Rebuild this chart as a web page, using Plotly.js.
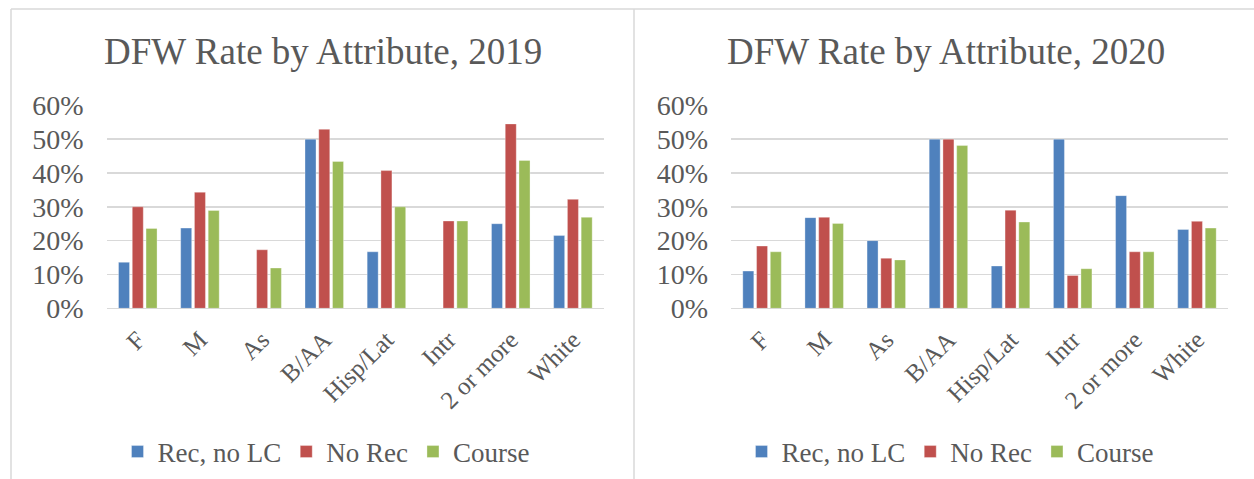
<!DOCTYPE html>
<html>
<head>
<meta charset="utf-8">
<script src="https://cdn.plot.ly/plotly-3.0.1.min.js"></script>
<style>
  html, body { margin: 0; padding: 0; background: #ffffff; }
  #chart { width: 1254px; height: 479px; }
</style>
</head>
<body>
<div id="chart"></div>
<script>
// ---- data ----
const categories = ["F", "M", "As", "B/AA", "Hisp/Lat", "Intr", "2 or more", "White"];
const seriesNames = ["Rec, no LC", "No Rec", "Course"];

const rec2019    = [0.136, 0.237, null, 0.500, 0.167, null, 0.250, 0.215];
const noRec2019  = [0.300, 0.343, 0.173, 0.529, 0.407, 0.258, 0.545, 0.322];
const course2019 = [0.236, 0.289, 0.119, 0.434, 0.300, 0.258, 0.437, 0.269];

const rec2020    = [0.110, 0.268, 0.200, 0.500, 0.125, 0.500, 0.333, 0.233];
const noRec2020  = [0.184, 0.269, 0.148, 0.500, 0.290, 0.097, 0.167, 0.257];
const course2020 = [0.167, 0.251, 0.143, 0.481, 0.255, 0.117, 0.167, 0.237];

const titles = ["DFW Rate by Attribute, 2019", "DFW Rate by Attribute, 2020"];
const yTicks = [0, 0.1, 0.2, 0.3, 0.4, 0.5, 0.6];

// ---- styling ----
const colors = ["#4F81BD", "#C0504D", "#9BBB59"];
const textColor = "#595959";
const gridColor = "#D9D9D9";
const fontFamily = "Liberation Serif";
const W = 1254, H = 479;
const px = v => v / W;
const py = v => (H - v) / H;

function bars(values, idx, xa, ya, legendRef) {
  return {
    type: "bar",
    x: categories,
    y: values,
    name: seriesNames[idx],
    xaxis: xa,
    yaxis: ya,
    legend: legendRef,
    marker: { color: colors[idx], line: { width: 0.6, color: "rgba(255,255,255,0.55)" } },
    hoverinfo: "x+y+name"
  };
}

const data = [
  bars(rec2019, 0, "x", "y", "legend"),
  bars(noRec2019, 1, "x", "y", "legend"),
  bars(course2019, 2, "x", "y", "legend"),
  bars(rec2020, 0, "x2", "y2", "legend2"),
  bars(noRec2020, 1, "x2", "y2", "legend2"),
  bars(course2020, 2, "x2", "y2", "legend2")
];

const yDomain = [py(308.3), py(105.3)];

function xAxis(domain, anchor) {
  return {
    domain: domain,
    anchor: anchor,
    type: "category",
    tickangle: -45,
    ticks: "",
    ticklabelstandoff: 11,
    showgrid: false,
    showline: false,
    zeroline: false,
    tickfont: { family: fontFamily, size: 25, color: textColor },
    fixedrange: true
  };
}
function yAxis(anchor) {
  return {
    domain: yDomain,
    anchor: anchor,
    range: [0, 0.6],
    tickvals: yTicks,
    tickformat: ".0%",
    ticks: "",
    ticklabelstandoff: 22,
    showgrid: true,
    gridcolor: gridColor,
    gridwidth: 1.5,
    zeroline: true,
    zerolinecolor: gridColor,
    zerolinewidth: 1.5,
    showline: false,
    tickfont: { family: fontFamily, size: 28, color: textColor },
    fixedrange: true
  };
}

function legendCfg(xCenter) {
  return {
    orientation: "h",
    x: px(xCenter),
    xanchor: "center",
    y: py(452),
    yanchor: "middle",
    font: { family: fontFamily, size: 27, color: textColor },
    bgcolor: "rgba(0,0,0,0)",
    itemwidth: 30,
    itemclick: false,
    itemdoubleclick: false
  };
}

const lineStyle = { color: gridColor, width: 1.5 };

const layout = {
  width: W,
  height: H,
  margin: { l: 0, r: 0, t: 0, b: 0 },
  paper_bgcolor: "#ffffff",
  plot_bgcolor: "#ffffff",
  barmode: "group",
  bargap: 0.336,
  bargroupgap: 0.2,
  showlegend: true,
  xaxis: xAxis([px(106.7), px(604)], "y"),
  yaxis: yAxis("x"),
  xaxis2: xAxis([px(731), px(1228)], "y2"),
  yaxis2: yAxis("x2"),
  legend: legendCfg(326),
  legend2: legendCfg(950),
  annotations: [
    { text: titles[0], xref: "paper", yref: "paper", x: px(323), y: py(51),
      xanchor: "center", yanchor: "middle", showarrow: false,
      font: { family: fontFamily, size: 37, color: textColor } },
    { text: titles[1], xref: "paper", yref: "paper", x: px(946), y: py(51),
      xanchor: "center", yanchor: "middle", showarrow: false,
      font: { family: fontFamily, size: 37, color: textColor } }
  ],
  shapes: [
    { type: "line", xref: "paper", yref: "paper", x0: px(11), x1: 1, y0: py(9), y1: py(9), line: lineStyle },
    { type: "line", xref: "paper", yref: "paper", x0: px(11), x1: px(11), y0: py(9), y1: 0, line: lineStyle },
    { type: "line", xref: "paper", yref: "paper", x0: px(634), x1: px(634), y0: py(9), y1: 0, line: lineStyle }
  ]
};

Plotly.newPlot("chart", data, layout, { displayModeBar: false, staticPlot: true });
</script>
</body>
</html>
